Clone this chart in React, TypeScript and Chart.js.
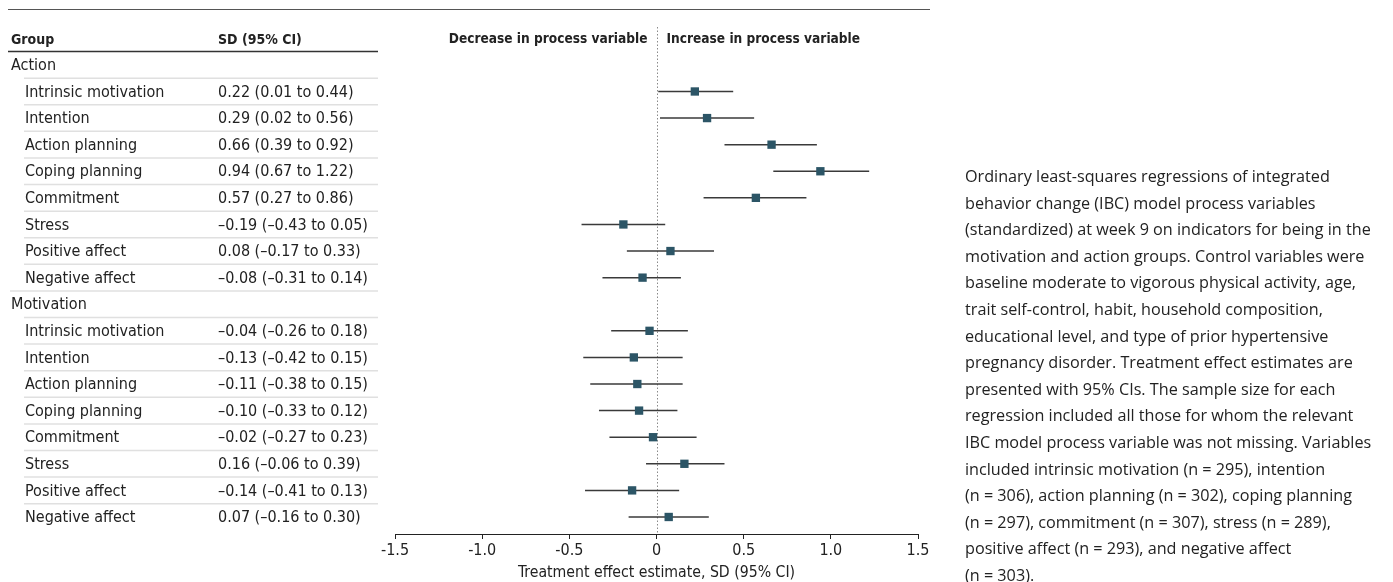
import React, { useEffect, useRef } from "react";
import { Chart, registerables } from "chart.js";

Chart.register(...registerables);

const groups = ["Action", "Motivation"];
const variables = [
  "Intrinsic motivation",
  "Intention",
  "Action planning",
  "Coping planning",
  "Commitment",
  "Stress",
  "Positive affect",
  "Negative affect",
];
const actionEst = [0.22, 0.29, 0.66, 0.94, 0.57, -0.19, 0.08, -0.08];
const actionLo = [0.01, 0.02, 0.39, 0.67, 0.27, -0.43, -0.17, -0.31];
const actionHi = [0.44, 0.56, 0.92, 1.22, 0.86, 0.05, 0.33, 0.14];
const motivationEst = [-0.04, -0.13, -0.11, -0.1, -0.02, 0.16, -0.14, 0.07];
const motivationLo = [-0.26, -0.42, -0.38, -0.33, -0.27, -0.06, -0.41, -0.16];
const motivationHi = [0.18, 0.15, 0.15, 0.12, 0.23, 0.39, 0.13, 0.3];
const xTickValues = [-1.5, -1.0, -0.5, 0, 0.5, 1.0, 1.5];
const xTickLabels = ["-1.5", "-1.0", "-0.5", "0", "0.5", "1.0", "1.5"];

const captionLines = [
  "Ordinary least-squares regressions of integrated",
  "behavior change (IBC) model process variables",
  "(standardized) at week 9 on indicators for being in the",
  "motivation and action groups. Control variables were",
  "baseline moderate to vigorous physical activity, age,",
  "trait self-control, habit, household composition,",
  "educational level, and type of prior hypertensive",
  "pregnancy disorder. Treatment effect estimates are",
  "presented with 95% CIs. The sample size for each",
  "regression included all those for whom the relevant",
  "IBC model process variable was not missing. Variables",
  "included intrinsic motivation (n = 295), intention",
  "(n = 306), action planning (n = 302), coping planning",
  "(n = 297), commitment (n = 307), stress (n = 289),",
  "positive affect (n = 293), and negative affect",
  "(n = 303).",
];

const FONT = '"DejaVu Sans Condensed", "DejaVu Sans", sans-serif';
const CAPTION_FONT = '"Open Sans", sans-serif';

type Row = { label: string; header: boolean; est?: number; lo?: number; hi?: number };

function buildRows(): Row[] {
  const rows: Row[] = [];
  const sets = [
    [actionEst, actionLo, actionHi],
    [motivationEst, motivationLo, motivationHi],
  ];
  groups.forEach((g, gi) => {
    rows.push({ label: g, header: true });
    variables.forEach((v, vi) => {
      rows.push({ label: v, header: false, est: sets[gi][0][vi], lo: sets[gi][1][vi], hi: sets[gi][2][vi] });
    });
  });
  return rows;
}

const fmt = (v: number) => (v < 0 ? "\u2013" : "") + Math.abs(v).toFixed(2);

export default function App() {
  const ref = useRef<HTMLCanvasElement | null>(null);

  useEffect(() => {
    const canvas = ref.current;
    if (!canvas) return;
    const rows = buildRows();
    const dataRows = rows.map((r, i) => ({ ...r, i })).filter((r) => !r.header);

    const ciDatasets: any[] = dataRows.map((r) => ({
      type: "line",
      data: [
        { x: r.lo, y: r.i },
        { x: r.hi, y: r.i },
      ],
      borderColor: "#3a3a3a",
      borderWidth: 1.5,
      pointRadius: 0,
      showLine: true,
      order: 2,
    }));

    const pointDataset: any = {
      type: "scatter",
      data: dataRows.map((r) => ({ x: r.est, y: r.i })),
      pointStyle: "rect",
      pointRadius: 5.9,
      pointHoverRadius: 5.9,
      backgroundColor: "#2c5566",
      borderColor: "#2c5566",
      borderWidth: 0,
      order: 1,
    };

    const tablePlugin = {
      id: "tablePlugin",
      beforeDatasetsDraw(chart: any) {
        const ctx = chart.ctx;
        const x0 = chart.scales.x.getPixelForValue(0);
        const { top, bottom } = chart.chartArea;
        ctx.save();
        ctx.strokeStyle = "#8a8a8a";
        ctx.lineWidth = 1;
        ctx.setLineDash([1.5, 2]);
        ctx.beginPath();
        ctx.moveTo(Math.round(x0) + 0.5, top + 2);
        ctx.lineTo(Math.round(x0) + 0.5, bottom);
        ctx.stroke();
        ctx.restore();
      },
      afterDraw(chart: any) {
        const ctx = chart.ctx;
        const ys = chart.scales.y;
        const xs = chart.scales.x;
        const x0 = xs.getPixelForValue(0);
        ctx.save();
        // top rule
        ctx.strokeStyle = "#555";
        ctx.lineWidth = 1;
        ctx.beginPath();
        ctx.moveTo(8, 9.5);
        ctx.lineTo(930, 9.5);
        ctx.stroke();

        const headerY = ys.getPixelForValue(0) - 25;
        ctx.fillStyle = "#222";
        ctx.textBaseline = "middle";
        ctx.font = `bold 14px ${FONT}`;
        ctx.textAlign = "left";
        ctx.fillText("Group", 11, headerY);
        ctx.fillText("SD (95% CI)", 218, headerY);
        ctx.font = `bold 13.6px ${FONT}`;
        ctx.textAlign = "right";
        ctx.fillText("Decrease in process variable", x0 - 9, headerY);
        ctx.textAlign = "left";
        ctx.fillText("Increase in process variable", x0 + 10, headerY);

        ctx.strokeStyle = "#333";
        ctx.lineWidth = 1.5;
        ctx.beginPath();
        ctx.moveTo(8, headerY + 11.5);
        ctx.lineTo(378, headerY + 11.5);
        ctx.stroke();

        ctx.font = `16px ${FONT}`;
        rows.forEach((r, i) => {
          const y = ys.getPixelForValue(i) + 1;
          ctx.fillStyle = "#222";
          ctx.textAlign = "left";
          if (r.header) {
            ctx.fillText(r.label, 11, y);
          } else {
            ctx.fillText(r.label, 25, y);
            ctx.fillText(`${fmt(r.est!)} (${fmt(r.lo!)} to ${fmt(r.hi!)})`, 218, y);
          }
          if (i < rows.length - 1) {
            const next = rows[i + 1];
            const sy = (ys.getPixelForValue(i) + ys.getPixelForValue(i + 1)) / 2;
            ctx.strokeStyle = "#e0e0e0";
            ctx.lineWidth = 1.5;
            ctx.beginPath();
            ctx.moveTo(next.header ? 10 : 24, sy);
            ctx.lineTo(378, sy);
            ctx.stroke();
          }
        });
        ctx.restore();
      },
    };

    const chart = new Chart(canvas, {
      type: "scatter",
      data: { datasets: [...ciDatasets, pointDataset] },
      options: {
        animation: false,
        responsive: false,
        maintainAspectRatio: false,
        devicePixelRatio: 1,
        layout: { padding: { left: 395, right: 475, top: 25, bottom: 0 } },
        plugins: { legend: { display: false }, tooltip: { enabled: false } },
        events: [],
        scales: {
          x: {
            type: "linear",
            min: -1.5,
            max: 1.5,
            afterBuildTicks: (scale: any) => {
              scale.ticks = xTickValues.map((v) => ({ value: v }));
            },
            afterFit: (scale: any) => {
              scale.height = 48;
            },
            ticks: {
              color: "#222",
              font: { family: FONT, size: 16 },
              padding: 2,
              maxRotation: 0,
              callback: (v: any) => {
                const idx = xTickValues.indexOf(Number(v));
                return idx >= 0 ? xTickLabels[idx] : "";
              },
            },
            grid: { drawOnChartArea: false, drawTicks: true, tickLength: 5, color: "#222" },
            border: { display: true, color: "#222", width: 1 },
            title: {
              display: true,
              text: "Treatment effect estimate, SD (95% CI)",
              color: "#222",
              font: { family: FONT, size: 15.7 },
              padding: { top: 0, bottom: 0 },
            },
          },
          y: {
            type: "linear",
            reverse: true,
            min: -1.5,
            max: 17.64,
            display: false,
          },
        },
      } as any,
      plugins: [tablePlugin],
    });
    return () => chart.destroy();
  }, []);

  return (
    <div style={{ position: "fixed", left: 0, top: 0, width: 1393, height: 582, background: "#fff" }}>
      <canvas ref={ref} width={1393} height={582} style={{ position: "absolute", left: 0, top: 0 }} />
      <div
        style={{
          position: "absolute",
          left: 965,
          top: 163,
          fontFamily: CAPTION_FONT,
          fontSize: 16.2,
          lineHeight: "26.6px",
          color: "#222",
          whiteSpace: "nowrap",
        }}
      >
        {captionLines.map((l, i) => (
          <div key={i}>{l}</div>
        ))}
      </div>
    </div>
  );
}
